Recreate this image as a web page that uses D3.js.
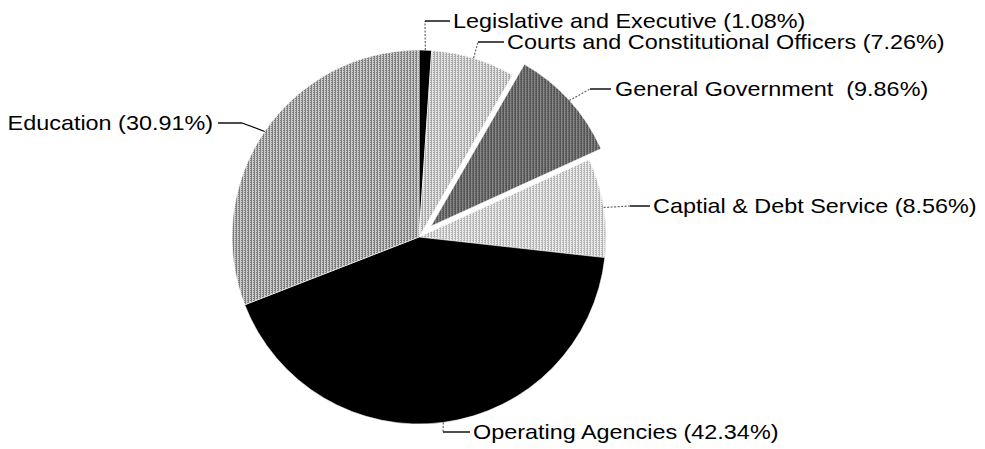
<!DOCTYPE html>
<html>
<head>
<meta charset="utf-8">
<script src="https://cdn.jsdelivr.net/npm/d3@7"></script>
<style>
  html, body { margin: 0; padding: 0; background: #fff; }
  svg { display: block; }
  text { font-family: "Liberation Sans", Arial, sans-serif; font-size: 20px; fill: #000; white-space: pre; }
</style>
</head>
<body>
<svg id="chart" width="985" height="449"></svg>
<script>
// Budget share by function (percent of total)
const categories = [
  "Legislative and Executive",
  "Courts and Constitutional Officers",
  "General Government ",
  "Captial & Debt Service",
  "Operating Agencies",
  "Education"
];
const values = [1.08, 7.26, 9.86, 8.56, 42.34, 30.91];
// Each fill is a light/dark pair mixed into a fine screen pattern
const fillLight = ["#000000", "#e4e4e4", "#8c8c8c", "#ececec", "#000000", "#cccccc"];
const fillDark  = ["#000000", "#a8a8a8", "#4a4a4a", "#b4b4b4", "#000000", "#7e7e7e"];
const exploded = [false, false, true, false, false, false];

const W = 985, H = 449;
const cx = 419, cy = 237, R = 187, explodeBy = 16;

// Label placement: elbow point, text anchor point and side for each slice
const labelLayout = [
  { elbow: [425, 21],  text: [453, 21],  anchor: "start", tail: 450 },
  { elbow: [478, 42],  text: [507, 42],  anchor: "start", tail: 504 },
  { elbow: [590, 89],  text: [615, 89],  anchor: "start", tail: 611 },
  { elbow: [630, 206], text: [653, 206], anchor: "start", tail: 650 },
  { elbow: [443, 432], text: [473, 432], anchor: "start", tail: 470 },
  { elbow: [242, 123], text: [213, 123], anchor: "end",   tail: 218 }
];
const textStretch = 1.17;

const svg = d3.select("#chart");

// Screen patterns for the grey slices
const defs = svg.append("defs");
categories.forEach((c, i) => {
  const p = defs.append("pattern")
    .attr("id", "screen" + i)
    .attr("patternUnits", "userSpaceOnUse")
    .attr("width", 3).attr("height", 2);
  p.append("rect").attr("width", 3).attr("height", 2).attr("fill", fillLight[i]);
  p.append("rect").attr("x", 0).attr("y", 0).attr("width", 1).attr("height", 2).attr("fill", fillDark[i]);
  p.append("rect").attr("x", 2).attr("y", 1).attr("width", 1).attr("height", 1).attr("fill", fillDark[i]);
});

const g = svg.append("g").attr("transform", `translate(${cx},${cy})`);

const pie = d3.pie().sort(null).value(d => d.value);
const arcs = pie(categories.map((c, i) => ({ name: c, value: values[i], i })));
const arc = d3.arc().innerRadius(0).outerRadius(R);

function offset(a) {
  if (!exploded[a.data.i]) return [0, 0];
  const mid = (a.startAngle + a.endAngle) / 2;
  return [Math.sin(mid) * explodeBy, -Math.cos(mid) * explodeBy];
}

g.selectAll("path.slice")
  .data(arcs)
  .join("path")
  .attr("class", "slice")
  .attr("d", arc)
  .attr("transform", d => `translate(${offset(d)})`)
  .attr("fill", d => `url(#screen${d.data.i})`)
  .attr("stroke", "#fff")
  .attr("stroke-width", 0.6);

// Leader lines and labels
const fmt = d3.format(".2f");
arcs.forEach(a => {
  const i = a.data.i;
  const L = labelLayout[i];
  const mid = (a.startAngle + a.endAngle) / 2;
  const [ox, oy] = offset(a);
  const ex = cx + ox + Math.sin(mid) * R;
  const ey = cy + oy - Math.cos(mid) * R;

  const isEdu = i === 5;
  svg.append("line")
    .attr("x1", ex).attr("y1", ey)
    .attr("x2", L.elbow[0]).attr("y2", L.elbow[1])
    .attr("stroke", isEdu ? "#000" : "#666")
    .attr("stroke-width", 1.2)
    .attr("stroke-dasharray", isEdu ? null : "2,1.5");
  svg.append("line")
    .attr("x1", L.elbow[0]).attr("y1", L.elbow[1])
    .attr("x2", L.tail).attr("y2", L.elbow[1])
    .attr("stroke", "#000")
    .attr("stroke-width", 1.4);

  svg.append("g")
    .attr("transform", `translate(${L.text[0]},${L.text[1]}) scale(${textStretch},1)`)
    .append("text")
    .attr("text-anchor", L.anchor)
    .attr("dy", "0.36em")
    .text(`${a.data.name} (${fmt(a.data.value)}%)`);
});
</script>
</body>
</html>
